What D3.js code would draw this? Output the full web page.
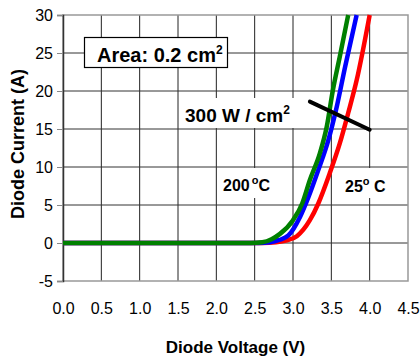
<!DOCTYPE html>
<html>
<head>
<meta charset="utf-8">
<script src="https://cdn.jsdelivr.net/npm/d3@7"></script>
<style>
  body { margin: 0; background: #fff; }
  svg { font-family: "Liberation Sans", Arial, sans-serif; }
</style>
</head>
<body>
<svg id="chart"></svg>
<script>
// axis ticks
const xTicks = [0, 0.5, 1, 1.5, 2, 2.5, 3, 3.5, 4, 4.5];
const yTicks = [-5, 0, 5, 10, 15, 20, 25, 30];

// 200 C curve (green)
const v200 = [0, 2.45, 2.6, 2.72, 2.83, 3.0, 3.12, 3.22, 3.35, 3.44, 3.52, 3.61, 3.72];
const i200 = [0, 0, 0.1, 0.5, 1.2, 3.0, 5.2, 8.3, 11.8, 15.3, 20.1, 24.5, 30];
// middle curve (blue)
const vMid = [0, 2.55, 2.7, 2.82, 2.94, 3.09, 3.2, 3.33, 3.46, 3.57, 3.68, 3.83];
const iMid = [0, 0, 0.1, 0.4, 1.0, 3.4, 6.0, 9.6, 13.5, 17.9, 23.2, 30];
// 25 C curve (red)
const v25 = [0, 2.6, 2.78, 2.92, 3.05, 3.22, 3.33, 3.48, 3.61, 3.72, 3.83, 4.0];
const i25 = [0, 0, 0.1, 0.35, 0.9, 3.0, 5.2, 9.2, 13.1, 17.1, 21.4, 30];
// 300 W/cm2 power line
const vPow = [3.22, 4.0];
const iPow = [18.6, 14.9];

const width = 420, height = 362;
const margin = { top: 15, right: 12, bottom: 81, left: 63 };

const svg = d3.select('#chart')
  .attr('width', width)
  .attr('height', height);

const x = d3.scaleLinear().domain([0, 4.5]).range([margin.left, width - margin.right]);
const y = d3.scaleLinear().domain([-5, 30]).range([height - margin.bottom, margin.top]);

// grid
svg.append('g')
  .selectAll('line')
  .data(xTicks.slice(1, -1))
  .enter().append('line')
  .attr('x1', d => x(d)).attr('x2', d => x(d))
  .attr('y1', y(30)).attr('y2', y(-5))
  .attr('stroke', '#222').attr('stroke-width', 1);

svg.append('g')
  .selectAll('line')
  .data(yTicks.slice(1, -1))
  .enter().append('line')
  .attr('x1', x(0)).attr('x2', x(4.5))
  .attr('y1', d => y(d)).attr('y2', d => y(d))
  .attr('stroke', '#333').attr('stroke-width', 1);

// border
svg.append('rect')
  .attr('x', x(0)).attr('y', y(30))
  .attr('width', x(4.5) - x(0)).attr('height', y(-5) - y(30))
  .attr('fill', 'none').attr('stroke', '#999').attr('stroke-width', 1.5);

// y axis
const yAxis = svg.append('g')
  .attr('transform', `translate(${x(0)},0)`)
  .call(d3.axisLeft(y).tickValues(yTicks).tickSize(6).tickPadding(4).tickFormat(d => String(d)));
yAxis.select('.domain').attr('stroke', '#333').attr('stroke-width', 1.5);
yAxis.selectAll('.tick line').attr('stroke', '#888');
yAxis.selectAll('text').attr('font-size', 16).attr('fill', '#000');

// x axis labels (no ticks)
const xAxis = svg.append('g')
  .attr('transform', `translate(0,${y(-5)})`)
  .call(d3.axisBottom(x).tickValues(xTicks).tickSize(0).tickPadding(22).tickFormat(d3.format('.1f')));
xAxis.select('.domain').remove();
xAxis.selectAll('text').attr('font-size', 16).attr('fill', '#000');

// titles
svg.append('text')
  .attr('x', (x(0) + x(4.5)) / 2).attr('y', 353)
  .attr('text-anchor', 'middle')
  .attr('font-size', 17).attr('font-weight', 'bold')
  .text('Diode Voltage (V)');

svg.append('text')
  .attr('transform', `translate(24,${(y(-5) + y(30)) / 2 - 4}) rotate(-90)`)
  .attr('text-anchor', 'middle')
  .attr('font-size', 18).attr('font-weight', 'bold')
  .text('Diode Current (A)');

// label backgrounds
function whiteBox(x0, y0, w, h) {
  svg.append('rect').attr('x', x0).attr('y', y0).attr('width', w).attr('height', h).attr('fill', '#fff');
}
whiteBox(181, 98, 113, 30);
whiteBox(218, 168, 60, 30);
whiteBox(340, 168, 52, 30);

// curves
const line = d3.line()
  .x(d => x(d[0])).y(d => y(d[1]))
  .curve(d3.curveMonotoneX);

const series = [
  { v: v25, i: i25, color: '#ff0000' },
  { v: vMid, i: iMid, color: '#0000ff' },
  { v: v200, i: i200, color: '#008000' }
];

svg.append('g')
  .selectAll('path')
  .data(series)
  .enter().append('path')
  .attr('d', s => line(s.v.map((v, k) => [v, s.i[k]])))
  .attr('fill', 'none')
  .attr('stroke', s => s.color)
  .attr('stroke-width', 4.5)
  .attr('stroke-linejoin', 'round');

// 300 W/cm2 line
svg.append('path')
  .attr('d', d3.line().x(d => x(d[0])).y(d => y(d[1]))(vPow.map((v, k) => [v, iPow[k]])))
  .attr('stroke', '#000').attr('stroke-width', 4).attr('stroke-linecap', 'round');

// area box
svg.append('rect')
  .attr('x', 84.5).attr('y', 37.5).attr('width', 143).attr('height', 30)
  .attr('fill', '#fff').attr('stroke', '#000').attr('stroke-width', 1.2);

const t1 = svg.append('text')
  .attr('x', 97).attr('y', 62)
  .attr('font-size', 20).attr('font-weight', 'bold');
t1.append('tspan').text('Area: 0.2 cm');
t1.append('tspan').attr('font-size', 12).attr('dy', -8).text('2');

const t2 = svg.append('text')
  .attr('x', 185).attr('y', 122)
  .attr('font-size', 19).attr('font-weight', 'bold');
t2.append('tspan').text('300 W / cm');
t2.append('tspan').attr('font-size', 12).attr('dy', -8).text('2');

const t3 = svg.append('text')
  .attr('x', 223).attr('y', 191)
  .attr('font-size', 16).attr('font-weight', 'bold');
t3.append('tspan').text('200');
t3.append('tspan').attr('font-size', 11).attr('dy', -7).attr('dx', 2).text('o');
t3.append('tspan').attr('dy', 7).text('C');

const t4 = svg.append('text')
  .attr('x', 345).attr('y', 192)
  .attr('font-size', 16).attr('font-weight', 'bold');
t4.append('tspan').text('25');
t4.append('tspan').attr('font-size', 11).attr('dy', -7).text('o');
t4.append('tspan').attr('dy', 7).text(' C');
</script>
</body>
</html>
